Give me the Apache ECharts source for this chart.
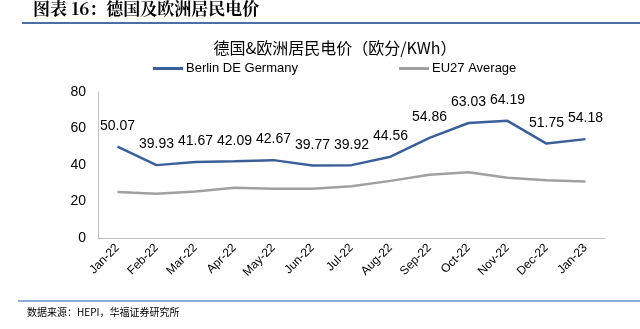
<!DOCTYPE html>
<html><head><meta charset="utf-8">
<script src="https://cdn.jsdelivr.net/npm/echarts@6/dist/echarts.min.js"></script>
<style>html,body{margin:0;padding:0;background:#fff}#c{width:640px;height:329px}</style>
</head><body><div id="c"></div>
<script>
var categories = ['Jan-22','Feb-22','Mar-22','Apr-22','May-22','Jun-22','Jul-22','Aug-22','Sep-22','Oct-22','Nov-22','Dec-22','Jan-23'];
var berlin = [50.07,39.93,41.67,42.09,42.67,39.77,39.92,44.56,54.86,63.03,64.19,51.75,54.18];
var eu27 = [25.2,24.2,25.5,27.5,27.0,27.0,28.3,31.3,34.7,36.0,33.0,31.7,30.9];
var yTicks = [0,20,40,60,80];
var chart = echarts.init(document.getElementById('c'));
var font = '"Liberation Sans", Arial, sans-serif';
chart.setOption({
  backgroundColor:'#fff',
  animation:false,
  title:{text:'德国&欧洲居民电价（欧分/KWh）', left:330, textAlign:'center', top:35,
    textStyle:{fontSize:16, fontWeight:'normal', color:'#000', fontFamily:'"Noto Sans CJK SC", sans-serif'}},
  legend:[
    {data:[{name:'Berlin DE Germany', itemStyle:{color:'#3b5f98', opacity:1}}], left:148, top:57, itemWidth:30, itemHeight:3, icon:'rect',
     textStyle:{fontSize:13, color:'#000', fontFamily:font, padding:[0,0,0,-2]}},
    {data:['EU27 Average'], left:394, top:57, itemWidth:30, itemHeight:3, icon:'rect',
     textStyle:{fontSize:13, color:'#000', fontFamily:font, padding:[0,0,0,-2]}}
  ],
  grid:{left:98, right:35, top:92, bottom:91},
  xAxis:{type:'category', data:categories, boundaryGap:true,
    axisLine:{lineStyle:{color:'#bfbfbf'}}, axisTick:{show:false},
    axisLabel:{rotate:45, fontSize:12, color:'#000', fontFamily:font, interval:0, margin:8}},
  yAxis:{type:'value', min:yTicks[0], max:yTicks[yTicks.length-1], interval:20,
    axisLine:{show:true, lineStyle:{color:'#bfbfbf'}}, axisTick:{show:false},
    splitLine:{show:false},
    axisLabel:{fontSize:14, color:'#000', fontFamily:font, margin:12}},
  series:[
    {name:'Berlin DE Germany', type:'line', data:berlin, symbol:'circle', symbolSize:1, showSymbol:true,
     lineStyle:{color:'#3b5f98', width:2.5}, itemStyle:{color:'#3b5f98', opacity:0},
     label:{show:true, position:'top', distance:13, fontSize:14, color:'#000', fontFamily:font, opacity:1,
       formatter:function(p){return p.value.toFixed(2);}}},
    {name:'EU27 Average', type:'line', data:eu27, symbol:'none',
     lineStyle:{color:'#a0a0a0', width:2.5}, itemStyle:{color:'#a0a0a0'}}
  ],
  graphic:[
    {type:'text', left:33, top:0, style:{text:'图表 16：德国及欧洲居民电价', fill:'#000', font:'bold 17px "Noto Serif CJK SC", "Noto Sans CJK SC", serif'}},
    {type:'rect', shape:{x:22, y:22, width:618, height:2}, style:{fill:'#4a6fa5'}},
    {type:'rect', shape:{x:18, y:300, width:622, height:2}, style:{fill:'#8eaadb'}},
    {type:'text', left:27, top:307, style:{text:'数据来源：HEPI，华福证券研究所', fill:'#000', font:'10px "Noto Sans CJK SC", sans-serif'}}
  ]
});
</script></body></html>
